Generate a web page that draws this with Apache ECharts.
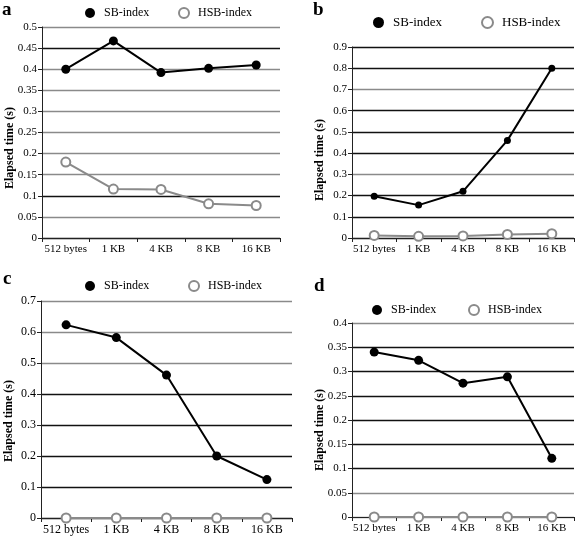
<!DOCTYPE html>
<html><head><meta charset="utf-8">
<script src="https://cdn.jsdelivr.net/npm/echarts@6/dist/echarts.min.js"></script>
<style>html,body{margin:0;padding:0;background:#fff}#c{width:576px;height:537px}</style>
</head><body><div id="c"></div>
<script>
const categories = ['512 bytes', '1 KB', '4 KB', '8 KB', '16 KB'];
const sbA = [0.400, 0.467, 0.392, 0.402, 0.410];
const hsbA = [0.180, 0.116, 0.115, 0.081, 0.077];
const sbB = [0.197, 0.155, 0.220, 0.460, 0.800];
const hsbB = [0.012, 0.008, 0.010, 0.017, 0.020];
const sbC = [0.623, 0.582, 0.461, 0.200, 0.124];
const hsbC = [0, 0, 0, 0, 0];
const sbD = [0.340, 0.323, 0.276, 0.289, 0.121];
const hsbD = [0, 0, 0, 0, 0];

const FONT = '"Liberation Serif", "DejaVu Serif", serif';
const G = '#8a8a8a', K = '#111';
const panels = [
  {sb: sbA, hsb: hsbA, max: 0.5, interval: 0.05, grid: {left: 42, top: 27, width: 238, height: 211}, sym: 9,
   lines: [K, G, K, G, G, G, G, G, G, K, G], fs: 11},
  {sb: sbB, hsb: hsbB, max: 0.9, interval: 0.1, grid: {left: 352, top: 47, width: 222, height: 191}, sym: 7,
   lines: [K, K, K, G, K, K, K, G, K, K], fs: 11},
  {sb: sbC, hsb: hsbC, max: 0.7, interval: 0.1, grid: {left: 41, top: 301, width: 251, height: 217}, sym: 9,
   lines: [K, K, K, K, K, G, G, G], fs: 12},
  {sb: sbD, hsb: hsbD, max: 0.4, interval: 0.05, grid: {left: 352, top: 323, width: 222, height: 194}, sym: 9,
   lines: [G, G, K, K, K, K, K, K, G], fs: 11}
];

const option = {
  animation: false,
  textStyle: {fontFamily: FONT},
  grid: panels.map(p => Object.assign({containLabel: false}, p.grid)),
  xAxis: panels.map((p, i) => ({
    type: 'category', gridIndex: i, data: categories, boundaryGap: true,
    axisLine: {lineStyle: {color: '#222', width: 1}},
    axisTick: {show: true, length: 4, lineStyle: {color: '#222'}},
    axisLabel: {color: '#000', fontFamily: FONT, fontSize: p.fs, margin: 6, interval: 0, hideOverlap: false},
    splitLine: {show: false}
  })),
  yAxis: panels.map((p, i) => ({
    type: 'value', gridIndex: i, min: 0, max: p.max, interval: p.interval,
    axisLine: {show: true, lineStyle: {color: '#222', width: 1}},
    axisTick: {show: true, length: 4, lineStyle: {color: '#222'}},
    axisLabel: {color: '#000', fontFamily: FONT, fontSize: p.fs, margin: 5},
    splitLine: {show: true, lineStyle: {color: p.lines, width: 1.3}}
  })),
  legend: [],
  series: [],
  graphic: []
};

panels.forEach((p, i) => {
  option.series.push({
    name: 'SB-index', type: 'line', xAxisIndex: i, yAxisIndex: i, data: p.sb,
    symbol: 'circle', symbolSize: p.sym, z: 3,
    lineStyle: {color: '#000', width: 2}, itemStyle: {color: '#000'}
  });
  option.series.push({
    name: 'HSB-index', type: 'line', xAxisIndex: i, yAxisIndex: i, data: p.hsb,
    symbol: 'circle', symbolSize: 9, z: 2,
    lineStyle: {color: G, width: 2}, itemStyle: {color: '#fff', borderColor: G, borderWidth: 2}
  });
});

const legendPos = [
  {sb: [85, 7], hsb: [178, 7], fs: 12, sz: 10},
  {sb: [373, 16], hsb: [481, 16], fs: 13, sz: 11},
  {sb: [85, 280], hsb: [188, 280], fs: 12, sz: 10},
  {sb: [372, 304], hsb: [468, 304], fs: 12, sz: 10}
];
legendPos.forEach(l => {
  option.legend.push({
    left: l.sb[0], top: l.sb[1], itemWidth: l.sz, itemHeight: l.sz, itemGap: 0,
    textStyle: {fontFamily: FONT, fontSize: l.fs, color: '#000', padding: [0, 0, 0, 4]},
    data: [{name: 'SB-index', icon: 'circle', itemStyle: {color: '#000'}}],
    selectedMode: false, padding: 0
  });
  option.legend.push({
    left: l.hsb[0], top: l.hsb[1], itemWidth: l.sz, itemHeight: l.sz, itemGap: 0,
    textStyle: {fontFamily: FONT, fontSize: l.fs, color: '#000', padding: [0, 0, 0, 4]},
    data: [{name: 'HSB-index', icon: 'circle', itemStyle: {color: '#fff', borderColor: G, borderWidth: 2}}],
    selectedMode: false, padding: 0
  });
});

const letters = [['a', 2, 1], ['b', 313, 1], ['c', 3, 270], ['d', 314, 277]];
letters.forEach(t => option.graphic.push({
  type: 'text', left: t[1], top: t[2],
  style: {text: t[0], font: 'bold 19px ' + FONT, fill: '#000'}
}));
const titles = [[10, 148], [320, 160], [9, 421], [320, 430]];
titles.forEach(t => option.graphic.push({
  type: 'text', x: t[0], y: t[1], rotation: Math.PI / 2,
  style: {text: 'Elapsed time (s)', font: 'bold 12px ' + FONT, fill: '#000', align: 'center', verticalAlign: 'middle'}
}));

const chart = echarts.init(document.getElementById('c'), null, {renderer: 'canvas'});
chart.setOption(option);
</script>
</body></html>
